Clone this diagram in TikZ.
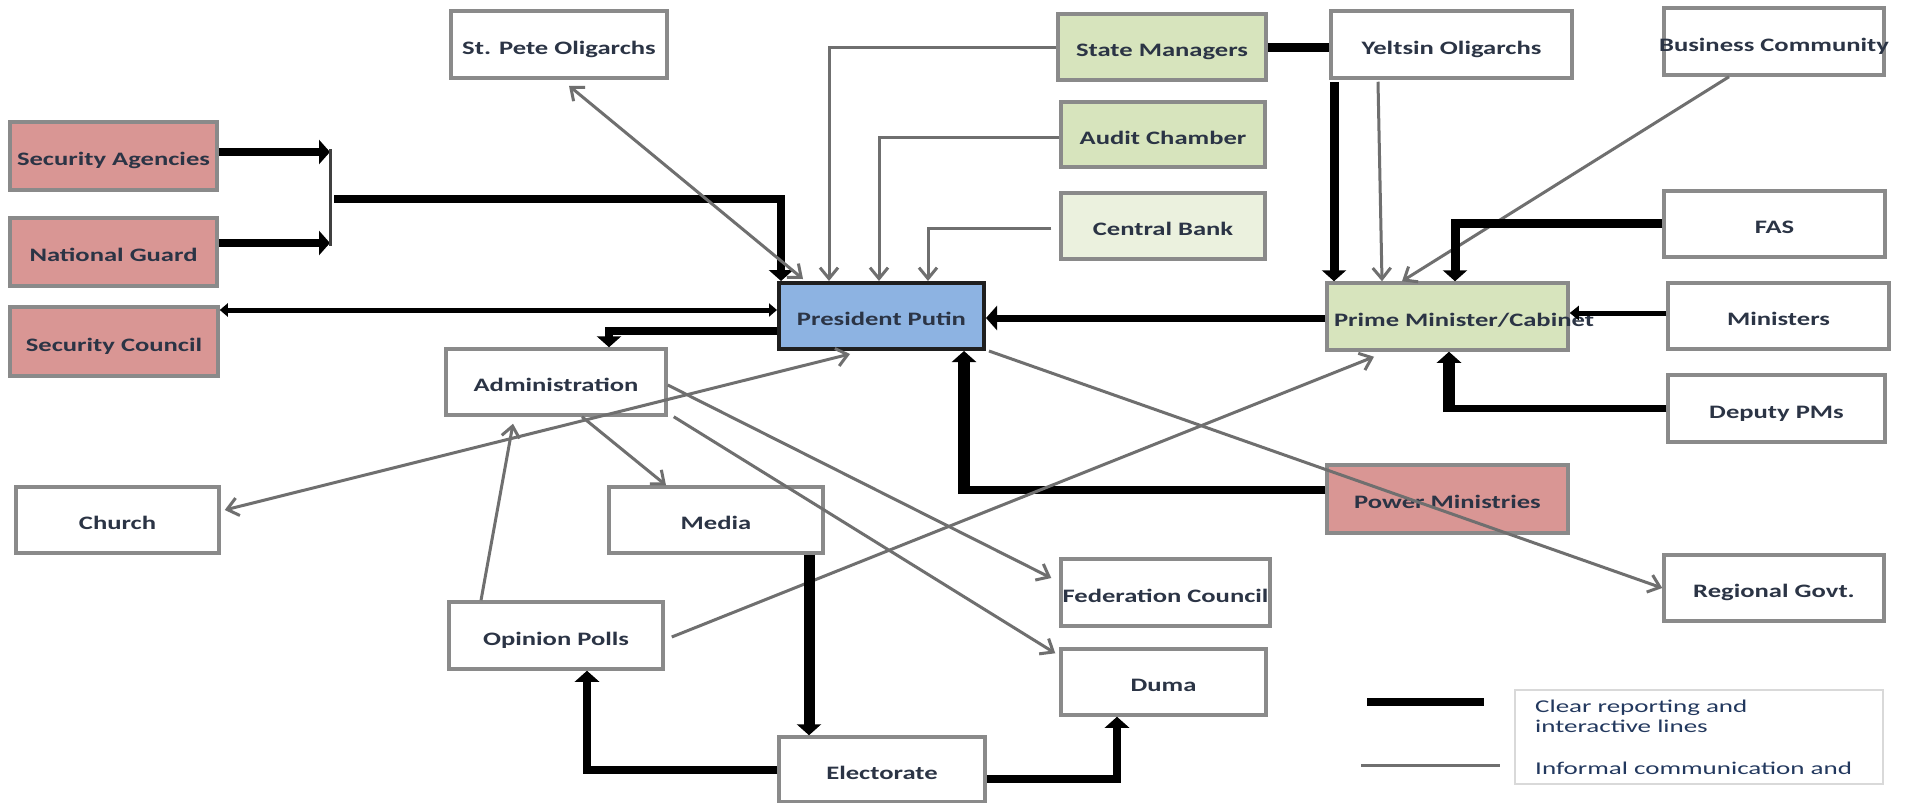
\documentclass[tikz,border=0pt]{standalone}
\usepackage{fontspec}
\usetikzlibrary{arrows.meta,calc}
\newfontfamily\boxfont{Carlito}
\definecolor{pinkf}{HTML}{D99694}
\definecolor{greenf}{HTML}{D7E4BD}
\definecolor{greenl}{HTML}{EBF1DE}
\definecolor{bluef}{HTML}{8DB3E2}
\definecolor{bordg}{HTML}{8A8A8A}
\definecolor{txtc}{HTML}{2B3445}
\definecolor{linec}{HTML}{6F6F6F}
\definecolor{legc}{HTML}{22385E}
\definecolor{legbord}{HTML}{D9D9D9}
\newcommand\sx[1]{\makebox[0pt]{\scalebox{1.4}[1]{#1}}}
\newcommand\lx[1]{\scalebox{1.5}[1]{#1}}
\begin{document}
\begin{tikzpicture}[x=1pt,y=-1pt,
  bx/.style={draw=bordg, line width=3.5pt, fill=white, inner sep=0pt, text=txtc,
    text height=19pt, text depth=0pt,
    font={\boxfont\bfseries\fontsize{19pt}{22pt}\selectfont}},
  thk/.style={line width=8pt, draw=black},
  atip/.style={-{Triangle[length=11pt,width=24pt]}},
  gry/.style={line width=3pt, draw=linec, -{Straight Barb[length=11pt,width=18pt]}},
  gry2/.style={line width=3pt, draw=linec, {Straight Barb[length=11pt,width=18pt]}-{Straight Barb[length=11pt,width=18pt]}},
  legtxt/.style={inner sep=0pt, text=legc, align=left,
    font={\boxfont\fontsize{18pt}{19.5pt}\selectfont}}
]
\fill[white] (0,0) rectangle (1914,803);
\useasboundingbox (0,0) rectangle (1914,803);

% boxes
\node[bx, minimum width=216pt, minimum height=67pt] (stpete) at (559,44.5) {\sx{St. Pete Oligarchs}};
\node[bx, fill=pinkf, minimum width=207pt, minimum height=68pt] (secag) at (113.5,156) {\sx{Security Agencies}};
\node[bx, fill=pinkf, minimum width=207pt, minimum height=68pt] (natg) at (113.5,252) {\sx{National Guard}};
\node[bx, fill=pinkf, minimum width=208pt, minimum height=69pt] (secc) at (114,341.5) {\sx{Security Council}};
\node[bx, minimum width=203pt, minimum height=66pt] (church) at (117.5,520) {\sx{Church}};
\node[bx, minimum width=220pt, minimum height=66pt] (admin) at (556,382) {\sx{Administration}};
\node[bx, minimum width=214pt, minimum height=66pt] (media) at (716,520) {\sx{Media}};
\node[bx, minimum width=214pt, minimum height=67pt] (opp) at (556,635.5) {\sx{Opinion Polls}};
\node[bx, minimum width=206pt, minimum height=65pt] (elect) at (882,769.5) {\sx{Electorate}};
\node[bx, fill=bluef, draw=black!88, line width=4pt, minimum width=205pt, minimum height=66pt] (putin) at (881.5,316) {\sx{President Putin}};
\node[bx, fill=greenf, minimum width=208pt, minimum height=66pt] (sm) at (1162,47) {\sx{State Managers}};
\node[bx, fill=greenf, minimum width=204pt, minimum height=65pt] (audit) at (1163,134.5) {\sx{Audit Chamber}};
\node[bx, fill=greenl, minimum width=204pt, minimum height=66pt] (cbank) at (1163,226) {\sx{Central Bank}};
\node[bx, minimum width=209pt, minimum height=67pt] (fedc) at (1165.5,592.5) {\sx{Federation Council}};
\node[bx, minimum width=205pt, minimum height=66pt] (duma) at (1163.5,682) {\sx{Duma}};
\node[bx, minimum width=241pt, minimum height=67pt] (yelt) at (1451.5,44.5) {\sx{Yeltsin Oligarchs}};
\node[bx, fill=greenf, minimum width=241pt, minimum height=67pt] (pm) at (1447.5,316.5) {\makebox[0pt][l]{\kern-113.5pt\scalebox{1.4}[1]{Prime Minister/Cabinet}}};
\node[bx, fill=pinkf, minimum width=241pt, minimum height=68pt] (powm) at (1447.5,499) {\sx{Power Ministries}};
\node[bx, minimum width=220pt, minimum height=67pt] (bus) at (1774,41.5) {\sx{Business Community}};
\node[bx, minimum width=221pt, minimum height=66pt] (fas) at (1774.5,224) {\sx{FAS}};
\node[bx, minimum width=221pt, minimum height=66pt] (mins) at (1778.5,316) {\sx{Ministers}};
\node[bx, minimum width=217pt, minimum height=67pt] (dpm) at (1776.5,408.5) {\sx{Deputy PMs}};
\node[bx, minimum width=220pt, minimum height=66pt] (regg) at (1774,588) {\sx{Regional Govt.}};

% legend
\node[draw=legbord, line width=2pt, fill=white, minimum width=368pt, minimum height=94pt, inner sep=0pt] (leg) at (1699,737) {};
\node[legtxt, anchor=north west] (lt1) at (1535,700) {\lx{Clear reporting and}\\\lx{interactive lines}};
\node[legtxt, anchor=west] (lt2) at (1535,768) {\lx{Informal communication and}};
\coordinate (la) at (1367,702);
\coordinate (lb) at (1484,702);
\draw[thk] (la) -- (lb);
\coordinate (lc) at (1361,765);
\coordinate (ld) at (1500,765);
\draw[line width=3pt, draw=linec] (lc) -- (ld);

% security cluster
\coordinate (j1) at (330,152);
\coordinate (j2) at (330,243);
\coordinate (j3) at (334,199);
\draw[thk,atip] ([yshift=4pt]secag.east) -- (j1);
\draw[thk,atip] ([yshift=9pt]natg.east) -- (j2);
\draw[line width=3pt, draw=black!75] ([yshift=3pt]j1) -- ([yshift=-3pt]j2);
\draw[thk,atip] (j3) -| ([xshift=4pt]putin.north west);
\coordinate (p1) at ([yshift=6pt]putin.west);
\draw[line width=5pt, {Triangle[length=8pt,width=13pt]}-{Triangle[length=8pt,width=13pt]}] (p1) -- (p1 -| secc.east);
\coordinate (p2) at ([yshift=-15pt]putin.west);
\draw[thk,atip] (p2) -| ([xshift=53pt]admin.north);

% informal into Putin
\draw[gry] (sm.west) -| ([xshift=-52.5pt]putin.north);
\draw[gry] ([yshift=-2.5pt]audit.west) -| ([xshift=-2.5pt]putin.north);
\draw[gry] ([xshift=-8pt,yshift=-2pt]cbank.west) -| ([xshift=46.5pt]putin.north);
\draw[gry2] ([xshift=10pt,yshift=-6pt]stpete.south) -- ([xshift=26pt,yshift=2pt]putin.north west);
\draw[gry2] ([xshift=4pt,yshift=10pt]church.east) -- ([xshift=-31.5pt,yshift=-3pt]putin.south);

% PM side
\coordinate (p3) at ([yshift=-1.5pt]pm.west);
\draw[line width=7pt,atip] (p3) -- (p3 -| putin.east);
\coordinate (pwS) at ([xshift=82.5pt]putin.south);
\coordinate (pwW) at ([yshift=9pt]powm.west);
\coordinate (pwC) at (pwS |- pwW);
\draw[line width=8pt] (pwW) -- (pwC);
\draw[line width=12pt,atip] ([yshift=-4pt]pwC) -- (pwS);
\coordinate (y1) at ([xshift=-117.5pt,yshift=-2pt]yelt.south);
\draw[line width=9pt,atip] (y1) -- (y1 |- pm.north);
\draw[gry] ([xshift=-73.5pt,yshift=-2pt]yelt.south) -- ([xshift=-65.5pt]pm.north);
\draw[gry] ([xshift=-45pt]bus.south) -- ([xshift=-45.5pt]pm.north);
\draw[line width=9pt,atip] ([yshift=1pt]fas.west) -| ([xshift=7.5pt]pm.north);
\coordinate (p4) at ([yshift=3pt]mins.west);
\draw[line width=5pt,-{Triangle[length=9pt,width=14pt]}] (p4) -- (p4 -| pm.east);
\coordinate (dS) at ([xshift=1.5pt]pm.south);
\coordinate (dC) at (dS |- dpm.west);
\draw[line width=7pt] (dpm.west) -- (dC);
\draw[line width=12pt,atip] ([yshift=-3.5pt]dC) -- (dS);
\draw[line width=9pt] (sm.east) -- (sm.east -| yelt.west);

% administration and below
\draw[gry] ([xshift=26pt]admin.south) -- ([xshift=-50pt]media.north);
\draw[gry] ([yshift=-3pt]admin.east) -- ([xshift=-8pt,yshift=14.5pt]fedc.west);
\draw[gry] ([xshift=6pt]admin.south east) -- ([xshift=-4pt,yshift=-6pt]duma.north west);
\draw[gry] ([xshift=-75pt]opp.north) -- ([xshift=-43pt,yshift=-7pt]admin.south);
\draw[gry] ([xshift=7pt,yshift=-1.5pt]opp.east) -- ([xshift=-73.5pt,yshift=-5pt]pm.south);
\draw[gry] ([xshift=3pt]putin.south east) -- (regg.west);
\coordinate (m1) at ([xshift=93pt]media.south);
\draw[line width=11pt,atip] (m1) -- (m1 |- elect.north);
\draw[thk,atip] (elect.west) -| ([xshift=31pt]opp.south);
\draw[thk,atip] ([yshift=-9.5pt]elect.east) -| ([xshift=-46.5pt]duma.south);
\end{tikzpicture}
\end{document}
